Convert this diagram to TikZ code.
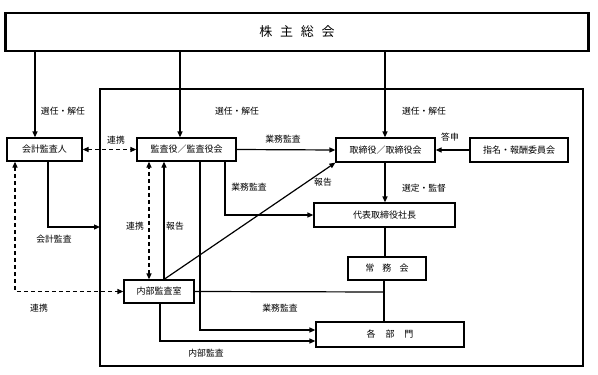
\documentclass[tikz,border=0pt]{standalone}
\usepackage{fontspec}
\setmainfont{Noto Sans CJK JP}
\usetikzlibrary{arrows.meta}
\tikzset{
  box/.style={draw, line width=1.2pt, rectangle, inner sep=0pt, font=\fontsize{9}{10}\selectfont},
  lbl/.style={inner sep=0pt, font=\fontsize{8.8}{10}\selectfont},
  ln/.style={line width=1.2pt},
  arr/.style={line width=1.2pt, -{Triangle[length=6pt,width=5pt]}},
  darr/.style={line width=1.2pt, dash pattern=on 4pt off 3pt, {Triangle[length=6pt,width=5pt]}-{Triangle[length=6pt,width=5pt]}}
}
\begin{document}
\begin{tikzpicture}[x=1pt,y=-1pt]
\useasboundingbox (0,0) rectangle (598,375);
% outer frame
\draw[ln] (100,89) rectangle (583,366);
% nodes
\node[box, line width=2.5pt, minimum width=583pt, minimum height=38pt, font=\fontsize{13}{15}\selectfont] (gm) at (297,32) {株\hspace{0.6em}主\hspace{0.6em}総\hspace{0.6em}会};
\node[box, minimum width=75pt, minimum height=23pt] (kaikei) at (44.5,149.5) {会計監査人};
\node[box, minimum width=99pt, minimum height=23pt] (kansa) at (186.5,149.5) {監査役／監査役会};
\node[box, minimum width=99pt, minimum height=24pt] (tori) at (385.5,150) {取締役／取締役会};
\node[box, minimum width=98pt, minimum height=24pt] (shimei) at (519,150) {指名・報酬委員会};
\node[box, minimum width=141pt, minimum height=24pt] (daihyo) at (384.5,215) {代表取締役社長};
\node[box, minimum width=78pt, minimum height=23pt] (jomu) at (387,268.5) {常\hspace{0.9em}務\hspace{0.9em}会};
\node[box, minimum width=148pt, minimum height=25pt] (kakubu) at (390,334.5) {各\hspace{1.1em}部\hspace{1.1em}門};
\node[box, minimum width=70pt, minimum height=23pt] (naibu) at (159,291.5) {内部監査室};
% helper coordinates
\coordinate (c35) at (35,0);
\coordinate (c180) at (180,0);
\coordinate (c385) at (385,0);
\coordinate (c225) at (225,0);
\coordinate (c200) at (200,0);
\coordinate (c149) at (149,0);
\coordinate (c164) at (164,0);
\coordinate (c48) at (48,0);
\coordinate (c15) at (15,0);
\coordinate (c160) at (160,0);
\coordinate (c384) at (384,0);
\coordinate (frameL) at (100,227);
\coordinate (join) at (384,292);
% connectors
\draw[arr] (gm.south -| c35) -- (kaikei.north -| c35);
\draw[arr] (gm.south -| c180) -- (kansa.north -| c180);
\draw[arr] (gm.south -| c385) -- (tori.north -| c385);
\draw[darr] (kaikei.east) -- (kansa.west);
\draw[arr] (kansa.east) -- (tori.west);
\draw[arr] (kansa.south -| c225) |- (daihyo.west);
\draw[arr] (kansa.south -| c200) |- (kakubu.west |- 0,330);
\draw[darr] (naibu.north -| c149) -- (kansa.south -| c149);
\draw[arr] (naibu.north -| c164) -- (kansa.south -| c164);
\draw[arr] (naibu.north -| c164) -- (tori.south west);
\draw[arr] (kaikei.south -| c48) |- (frameL);
\draw[darr] (kaikei.south -| c15) |- (naibu.west);
\draw[ln] (naibu.east) -- (join);
\draw[arr] (naibu.south -| c160) |- (kakubu.west |- 0,341);
\draw[arr] (tori.south -| c385) -- (daihyo.north -| c385);
\draw[arr] (shimei.west) -- (tori.east);
\draw[ln] (daihyo.south -| c385) -- (jomu.north -| c385);
\draw[ln] (jomu.south -| c384) -- (kakubu.north -| c384);
% labels
\node[lbl] (l1) at (63,111) {選任・解任};
\node[lbl] (l2) at (237,111) {選任・解任};
\node[lbl] (l3) at (424,111) {選任・解任};
\node[lbl] (l4) at (116,140) {連携};
\node[lbl] (l5) at (283,139) {業務監査};
\node[lbl] (l6) at (450,137) {答申};
\node[lbl] (l7) at (249,187) {業務監査};
\node[lbl] (l8) at (323,182) {報告};
\node[lbl] (l9) at (424,188) {選定・監督};
\node[lbl] (l10) at (135,226) {連携};
\node[lbl] (l11) at (175,226) {報告};
\node[lbl] (l12) at (54,239) {会計監査};
\node[lbl] (l13) at (39,308) {連携};
\node[lbl] (l14) at (280,308) {業務監査};
\node[lbl] (l15) at (206,353) {内部監査};
\end{tikzpicture}
\end{document}
